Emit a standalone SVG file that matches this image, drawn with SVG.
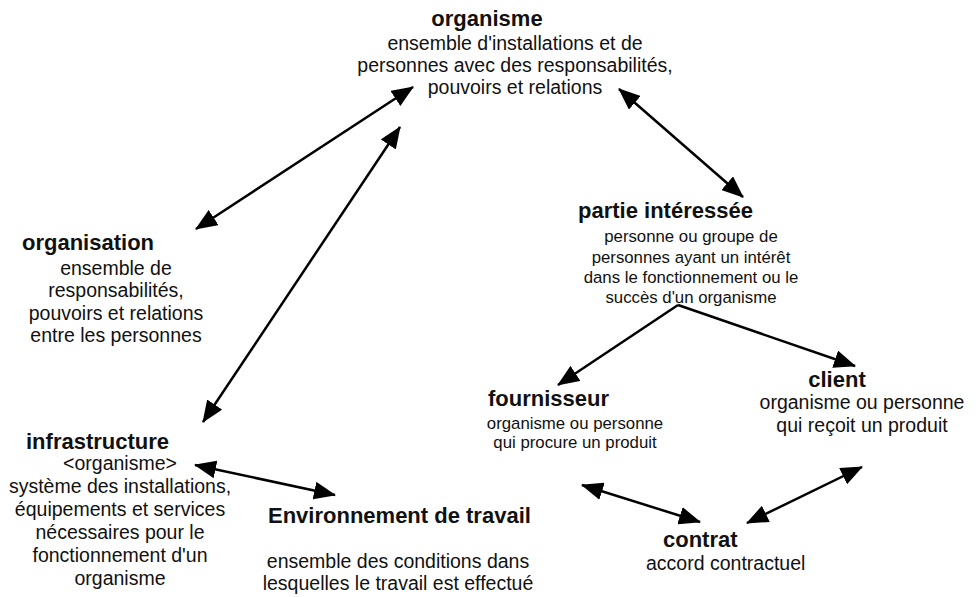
<svg xmlns="http://www.w3.org/2000/svg" width="979" height="597" viewBox="0 0 979 597">
<defs>
<marker id="ah" viewBox="0 0 22 18" markerWidth="22" markerHeight="18" refX="21" refY="9" orient="auto-start-reverse" markerUnits="userSpaceOnUse">
<path d="M0,0 L22,9 L0,18 z" fill="#000"/>
</marker>
<style>
text{font-family:"Liberation Sans",Arial,sans-serif;fill:#111}
.t{font-weight:bold;font-size:22px}
.b{font-size:19.5px}
.s{font-size:16.8px}
.c{text-anchor:middle}
.ln{stroke:#000;stroke-width:2.5;fill:none}
.bi{marker-start:url(#ah);marker-end:url(#ah)}
.un{marker-end:url(#ah)}
</style>
</defs>
<rect width="979" height="597" fill="#fff"/>
<g id="connectors">
<line class="ln bi" x1="413" y1="87" x2="196" y2="229"/>
<line class="ln bi" x1="400" y1="127" x2="203" y2="422"/>
<line class="ln bi" x1="619" y1="89" x2="743" y2="197"/>
<line class="ln un" x1="678" y1="305" x2="558" y2="385"/>
<line class="ln un" x1="678" y1="305" x2="855" y2="366"/>
<line class="ln bi" x1="195" y1="465" x2="335" y2="495"/>
<line class="ln bi" x1="582" y1="485" x2="700" y2="522"/>
<line class="ln bi" x1="862" y1="467" x2="747" y2="523"/>
</g>
<g id="organisme">
<text class="t c" x="487" y="26">organisme</text>
<text class="b c" x="515" y="50">ensemble d'installations et de</text>
<text class="b c" x="515" y="72">personnes avec des responsabilités,</text>
<text class="b c" x="515" y="94">pouvoirs et relations</text>
</g>
<g id="organisation">
<text class="t" x="22" y="250">organisation</text>
<text class="b c" x="116" y="275">ensemble de</text>
<text class="b c" x="116" y="297">responsabilités,</text>
<text class="b c" x="116" y="320">pouvoirs et relations</text>
<text class="b c" x="116" y="342">entre les personnes</text>
</g>
<g id="partie">
<text class="t" x="578" y="218">partie intéressée</text>
<text class="s c" x="691" y="242">personne ou groupe de</text>
<text class="s c" x="691" y="263">personnes ayant un intérêt</text>
<text class="s c" x="691" y="283">dans le fonctionnement ou le</text>
<text class="s c" x="691" y="303">succès d'un organisme</text>
</g>
<g id="fournisseur">
<text class="t" x="488" y="406">fournisseur</text>
<text class="s c" x="575" y="429">organisme ou personne</text>
<text class="s c" x="575" y="448">qui procure un produit</text>
</g>
<g id="client">
<text class="t c" x="837" y="387">client</text>
<text class="b c" x="862" y="409">organisme ou personne</text>
<text class="b c" x="862" y="432">qui reçoit un produit</text>
</g>
<g id="infrastructure">
<text class="t" x="26" y="449">infrastructure</text>
<text class="b c" x="120" y="470">&lt;organisme&gt;</text>
<text class="b c" x="120" y="493">système des installations,</text>
<text class="b c" x="120" y="516">équipements et services</text>
<text class="b c" x="120" y="539">nécessaires pour le</text>
<text class="b c" x="120" y="562">fonctionnement d'un</text>
<text class="b c" x="120" y="585">organisme</text>
</g>
<g id="environnement">
<text class="t" x="268" y="523">Environnement de travail</text>
<text class="b c" x="398" y="568">ensemble des conditions dans</text>
<text class="b c" x="398" y="590">lesquelles le travail est effectué</text>
</g>
<g id="contrat">
<text class="t" x="663" y="547">contrat</text>
<text class="b" x="646" y="570">accord contractuel</text>
</g>
</svg>
